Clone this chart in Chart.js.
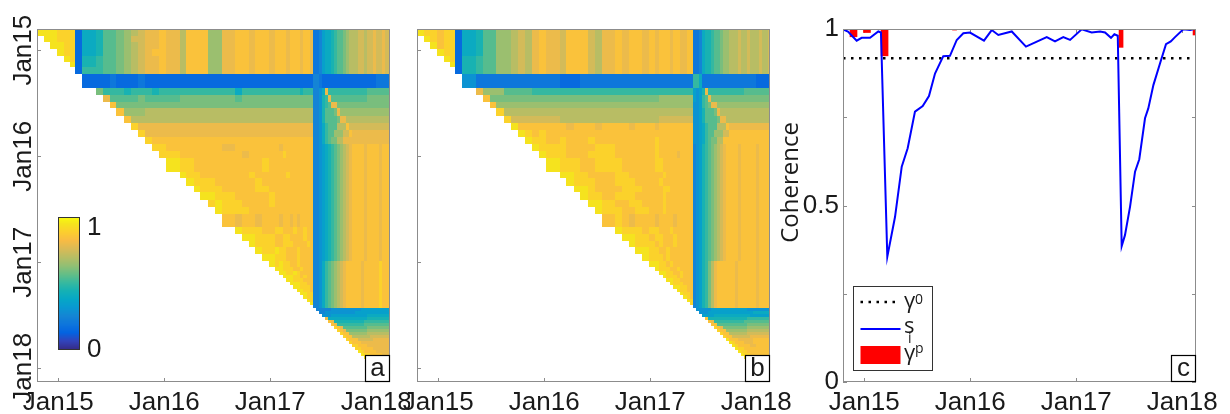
<!DOCTYPE html>
<html>
<head>
<meta charset="utf-8">
<script src="https://cdn.jsdelivr.net/npm/chart.js@4.4.1/dist/chart.umd.min.js"></script>
<style>
html,body{margin:0;padding:0;background:#fff;}
#wrap{position:relative;width:1230px;height:414px;overflow:hidden;}
canvas{position:absolute;top:0;}
</style>
</head>
<body>
<div id="wrap">
<canvas id="pa" width="410" height="414" style="left:0"></canvas>
<canvas id="pb" width="410" height="414" style="left:400px"></canvas>
<canvas id="pc" width="460" height="414" style="left:770px"></canvas>
</div>
<script>
const X_MIN = 2014.80, X_MAX = 2018.13;
const tickYears = [2015, 2016, 2017, 2018];
const tickLabels = ['Jan15', 'Jan16', 'Jan17', 'Jan18'];

// acquisition date edges (decimal years)
const dates = [
  2014.800, 2014.863, 2014.925, 2014.989, 2015.052, 2015.114, 2015.161, 2015.225, 2015.359, 2015.423,
  2015.486, 2015.548, 2015.618, 2015.690, 2015.753, 2015.816, 2015.885, 2015.954, 2016.017, 2016.146,
  2016.208, 2016.278, 2016.341, 2016.410, 2016.476, 2016.542, 2016.668, 2016.734, 2016.797, 2016.857,
  2016.923, 2016.986, 2017.048, 2017.083, 2017.116, 2017.149, 2017.182, 2017.215, 2017.248, 2017.281,
  2017.314, 2017.347, 2017.380, 2017.408, 2017.435, 2017.462, 2017.489, 2017.517, 2017.545, 2017.574,
  2017.602, 2017.630, 2017.658, 2017.687, 2017.715, 2017.743, 2017.772, 2017.800, 2017.828, 2017.857,
  2017.885, 2017.913, 2017.942, 2017.970, 2017.998, 2018.026, 2018.055, 2018.083, 2018.111, 2018.135
];

// coherence rows, run-length coded: letter = level (A=0.00 ... U=1.00, step 0.05), digits = repeat
const cohA = [
  "T3 S3 D I J L2 M N O P Q Q R Q O R3 N2 Q R2 Q R2 Q R R2 Q R3 Q R2 Q E2 F H I2 J K L2 M N O3 P2 O P2 Q P2 Q P2",
  "T2 S3 D I J L2 M N P P Q Q R Q O R3 N2 Q R2 Q R2 Q R R2 Q R3 Q R2 Q E2 F H I2 J K L2 M N O3 P2 O P2 Q P2 Q P2",
  "T2 S2 D I J L2 M N O P Q Q R Q O R3 N2 Q R2 Q R2 Q R R2 Q R3 Q R2 Q E2 F H I2 J K L2 M N O3 P2 O P2 Q P2 Q P2",
  "T S2 D I J L2 M N O P Q R R Q O R3 N2 Q R2 Q R2 Q R R2 Q R3 Q R2 Q E2 F H I2 J K L2 M N O3 P2 O P2 Q P2 Q P2",
  "T S D J K L2 M N O P Q Q R Q O R3 N2 Q R2 Q R2 Q R R2 Q R3 Q R2 Q E2 F H I2 J K L2 M N O3 P2 O P2 Q P2 Q P2",
  "T D J K L2 M N O P Q Q R Q O R3 N2 Q R2 Q R2 Q R R2 Q R3 Q R2 Q E2 F H I2 J K L2 M N O3 P2 O P2 Q P2 Q P2",
  "D K K L2 M N O P Q Q R Q O R3 N2 Q R2 Q R2 Q R R2 Q R3 Q R2 Q E2 F H I2 J K L2 M N O3 P2 O P2 Q P2 Q P2",
  "D3 E D3 E D8 D2 D8 D10 F2 E D18 E5",
  "M K3 J K3 J K2 K7 I K6 K6 J K3 F2 G I Q K13 L8",
  "Q L4 M L4 M7 L M6 M10 F2 G J K Q L12 M8",
  "R M8 M14 M10 F2 G J K L Q2 M18",
  "R N3 O4 O14 O10 F2 G J L3 M Q N17",
  "R O6 O14 O10 F2 G J L4 M Q2 O15",
  "S Q5 Q14 Q10 F2 G I K L3 O3 R P14",
  "S Q4 Q14 Q10 F2 G I K L2 N3 P2 R Q13",
  "S R3 R14 R10 F2 G I K L M2 O2 Q16",
  "S2 R7 Q R7 Q R9 F2 G H I J K L M N O P Q R4 Q R4 Q R4",
  "S2 R8 Q R6 S R8 F2 G H I J K L M N O P Q R4 Q R4 Q R4",
  "T S2 R9 S R12 F2 G H I J K L M N O P Q R4 Q R4 Q R4",
  "T S2 R6 S R6 S R7 F2 G H I J K L M N O P Q R4 Q R4 Q R4",
  "T S3 R5 S R13 F2 G H I J K L M N O P Q R4 Q R4 Q R4",
  "T S3 R4 S2 R12 F2 G H I J K L M N O P Q R4 Q R4 Q R4",
  "T2 S2 R5 S R11 F2 G H I J K L M N O P Q R4 Q R4 Q R4",
  "S T S2 R4 S R11 F2 G H I J K L M N O P Q R4 Q R4 Q R4",
  "T S3 R15 F2 G H I J K L M N O P Q R4 Q R4 Q R4",
  "R Q R2 Q R3 Q R2 Q R Q R4 F2 G H I J K L M N O P Q R4 Q R4 Q R4",
  "T S3 R2 S2 R3 S R2 S R2 F2 G H I J K L M N O P Q R4 Q R4 Q R4",
  "T2 S3 R2 S2 R4 S R2 F2 G H I J K L M N O P Q R4 Q R4 Q R4",
  "T S3 R2 S3 R4 S R F2 G H I J K L M N O P Q R4 Q R4 Q R4",
  "T S2 T S2 R3 S R4 F2 G H I J K L M N O P Q R4 Q R4 Q R4",
  "T2 S3 R3 S R4 F2 G H I J K L M N O P Q R4 Q R4 Q R4",
  "T S T S2 R2 S R4 F2 G I K L M N O P Q R5 Q R5 S R4",
  "T2 S3 R2 S R3 F2 G I K L M N O P Q R5 Q R5 S R4",
  "T2 S2 T S R4 F2 G I K L M N O P Q R5 Q R5 S R4",
  "T3 S2 R S R2 F2 G I K L M N O P Q R5 Q R5 S R4",
  "T2 S3 R3 F2 G I K L M N O P Q R5 Q R5 S R4",
  "T3 S2 R2 F2 G I K L M N O P Q R5 Q R5 S R4",
  "T2 S3 R F2 G I K L M N O P Q R5 Q R5 S R4",
  "T2 S2 R F2 G I K L M N O P Q R5 Q R5 S R4",
  "T2 S2 F2 G I K L M N O P Q R5 Q R5 S R4",
  "T S2 F2 G I K L M N O P Q R5 Q R5 S R4",
  "T S F2 G I K L M N O P Q R5 Q R5 S R4",
  "T F2 G I K L M N O P Q R5 Q R5 S R4",
  "F2 G I K L M N O P Q R5 Q R5 S R4",
  "F5 G10 H10",
  "F2 G10 H12",
  "G3 H12 I8",
  "Q I13 J8",
  "R Q J10 K9",
  "R Q K9 L9",
  "S R Q L8 M8",
  "S R Q M7 N8",
  "S R2 N6 O8",
  "S R2 O6 P7",
  "S R3 P5 Q6",
  "S R3 Q10",
  "S2 R3 Q8",
  "S2 R4 Q6",
  "T S R4 Q5",
  "T S2 R4 Q3",
  "T S2 R6",
  "T S2 R5",
  "T S2 R4",
  "T S2 R3",
  "T S2 R2",
  "T S2 R",
  "T S2",
  "T S",
  "T"
];

const cohB = [
  "T S2 R S2 D I J L2 N2 O P O Q R Q P R3 P O Q R Q R2 Q R Q R3 Q R2 Q2 R2 E2 F I J2 K L2 M N2 O3 P O2 P O3 P O2 P",
  "T S R S2 D I J L2 N2 O P O Q R Q P R3 P O Q R Q R2 Q R Q R3 Q R2 Q2 R2 E2 F I J2 K L2 M N2 O3 P O2 P O3 P O2 P",
  "T R S2 D I J L2 N2 O P O Q R Q P R3 P O Q R Q R2 Q R Q R3 Q R2 Q2 R2 E2 F I J2 K L2 M N2 O3 P O2 P O3 P O2 P",
  "T S2 D I J L2 N2 O P O Q R Q P R3 P O Q R Q R2 Q R Q R3 Q R2 Q2 R2 E2 F I J2 K L2 M N2 O3 P O2 P O3 P O2 P",
  "T S D J K L2 N2 O P O Q R Q P R3 P O Q R Q R2 Q R Q R3 Q R2 Q2 R2 E2 F I J2 K L2 M N2 O3 P O2 P O3 P O2 P",
  "T D J K L2 N2 O P O Q R Q P R3 P O Q R Q R2 Q R Q R3 Q R2 Q2 R2 E2 F I J2 K L2 M N2 O3 P O2 P O3 P O2 P",
  "D J K L2 N2 O P O Q R Q P R3 P O Q R Q R2 Q R Q R3 Q R2 Q2 R2 E2 F I J2 K L2 M N2 O3 P O2 P O3 P O2 P",
  "G E11 D3 E21 K2 I E18 D5",
  "Q N3 L4 K3 K14 K10 H G H J Q K12 L9",
  "R M9 M14 N10 H G H K L Q M20",
  "R N8 N14 N10 G2 H K L M Q2 N18",
  "S O7 O14 O10 G2 H J L3 M Q O17",
  "S P6 O14 P10 G2 H J L4 M Q2 O15",
  "T R5 R Q R3 Q R3 Q R3 Q R10 G2 H I K L3 O3 R Q14",
  "T S R S R R14 R10 G2 H I K L2 N3 P2 R R13",
  "T S2 R S R3 S R8 S R10 G2 H I K L M2 O2 R16",
  "T S3 R4 S2 R6 S R10 F G H J K L M N O P Q R4 Q R5 Q R4",
  "T S2 R3 S3 R6 S R5 Q R4 F G H J K L M N O P Q R4 Q R5 Q R4",
  "T S3 R2 S3 R5 S2 R9 F G H J K L M N O P Q R4 Q R5 Q R4",
  "T2 S2 R3 S2 R6 S R8 F G H J K L M N O P Q R4 Q R5 Q R4",
  "T S3 R2 S3 R4 S R9 F G H J K L M N O P Q R4 Q R5 Q R4",
  "T2 S R3 S3 R4 S2 R7 F G H J K L M N O P Q R4 Q R5 Q R4",
  "T S2 R S3 R5 S R8 F G H J K L M N O P Q R4 Q R5 Q R4",
  "T2 S R2 S2 R4 S R8 F G H J K L M N O P Q R4 Q R5 Q R4",
  "T S2 R2 S2 R3 S R8 F G H J K L M N O P Q R4 Q R5 Q R4",
  "R S R Q R3 Q R4 Q R5 F G H J K L M N O P Q R4 Q R5 Q R4",
  "T S3 R S2 R3 S R6 F G H J K L M N O P Q R4 Q R5 Q R4",
  "T2 S2 R S2 R3 S R5 F G H J K L M N O P Q R4 Q R5 Q R4",
  "T S3 R S R3 S R5 F G H J K L M N O P Q R4 Q R5 Q R4",
  "T2 S2 R2 S R7 F G H J K L M N O P Q R4 Q R5 Q R4",
  "T S3 R S R7 F G H J K L M N O P Q R4 Q R5 Q R4",
  "T2 S2 R S R6 F G H J K M O Q R6 Q R6 Q R4",
  "T S3 R2 S R4 F G H J K M O Q R6 Q R6 Q R4",
  "T2 S2 R2 S R3 F G H J K M O Q R6 Q R6 Q R4",
  "T S3 R S R3 F G H J K M O Q R6 Q R6 Q R4",
  "T2 S2 R4 F G H J K M O Q R6 Q R6 Q R4",
  "T S3 R3 F G H J K M O Q R6 Q R6 Q R4",
  "T2 S2 R2 F G H J K M O Q R6 Q R6 Q R4",
  "T S2 R2 F G H J K M O Q R6 Q R6 Q R4",
  "T S2 R F G H J K M O Q R6 Q R6 Q R4",
  "T S R F G H J K M O Q R6 Q R6 Q R4",
  "T S F G H J K M O Q R6 Q R6 Q R4",
  "S F G H J K M O Q R6 Q R6 Q R4",
  "F G H J K M O Q R6 Q R6 Q R4",
  "G5 H12 G8",
  "G3 H15 I6",
  "H4 I12 H7",
  "R J13 K8",
  "R Q K10 L9",
  "R2 L10 M8",
  "S R Q M8 N8",
  "S R2 N7 O8",
  "S R2 O6 P8",
  "S R2 P6 Q7",
  "T R3 Q5 R6",
  "T S R3 Q3 R6",
  "T S R4 Q2 R5",
  "T S2 R9",
  "T S2 R8",
  "T S2 R7",
  "T S2 R6",
  "T S2 R5",
  "T S2 R4",
  "T S2 R3",
  "T S2 R2",
  "T S2 R",
  "T S2",
  "T S",
  "T"
];

// panel c: s_i line
const siDates = [
  2014.800, 2014.847, 2014.929, 2014.976, 2015.055, 2015.133, 2015.158, 2015.218, 2015.291, 2015.354,
  2015.410, 2015.479, 2015.552, 2015.611, 2015.668, 2015.746, 2015.809, 2015.873, 2015.935, 2015.998,
  2016.130, 2016.203, 2016.265, 2016.392, 2016.526, 2016.722, 2016.800, 2016.878, 2016.942, 2017.052,
  2017.146, 2017.225, 2017.272, 2017.328, 2017.360, 2017.392, 2017.429, 2017.460, 2017.508, 2017.555,
  2017.595, 2017.649, 2017.680, 2017.728, 2017.791, 2017.847, 2017.892, 2017.932, 2018.010, 2018.074,
  2018.106
];
const siValues = [
  0.999, 0.993, 0.967, 0.975, 0.975, 0.993, 0.990, 0.355, 0.468, 0.610,
  0.662, 0.766, 0.782, 0.810, 0.874, 0.923, 0.924, 0.969, 0.988, 0.990,
  0.967, 0.997, 0.983, 0.993, 0.950, 0.977, 0.965, 0.977, 0.969, 0.999,
  0.990, 0.993, 0.990, 0.975, 0.985, 0.981, 0.385, 0.416, 0.497, 0.596,
  0.631, 0.747, 0.775, 0.841, 0.903, 0.957, 0.965, 0.977, 0.999, 0.997,
  0.999
];
const gamma0 = 0.917;
const gpDates = [2014.899, 2015.026, 2015.192, 2015.852, 2016.995, 2017.423, 2018.121];
const gpValues = [0.978, 0.990, 0.924, 0.997, 0.998, 0.948, 0.983];
const cTicks = [0, 0.25, 0.5, 0.75, 1];
const cTickLabels = ['0', '', '0.5', '', '1'];

const FONT = '"Liberation Sans", Arial, sans-serif';
const FONT2 = '"Open Sans", sans-serif';
const TXT = '#1a1a1a';
const AXC = '#8c8c8c';

const PARULA = [
  [0, 53, 42, 135], [4, 50, 67, 186], [8, 3, 99, 225], [12, 13, 117, 220], [16, 20, 133, 212],
  [20, 9, 152, 209], [24, 6, 167, 198], [28, 21, 177, 180], [32, 56, 185, 158], [36, 101, 190, 134],
  [40, 146, 191, 115], [44, 183, 189, 100], [48, 217, 186, 86], [52, 248, 187, 68], [56, 252, 206, 46],
  [60, 245, 228, 29], [63, 249, 251, 14]
];
function parula(v){
  const t = Math.min(Math.max(v, 0), 1) * 63;
  let k = 0;
  while(k < PARULA.length - 2 && PARULA[k+1][0] < t) k++;
  const a = PARULA[k], b = PARULA[k+1];
  const f = (t - a[0]) / (b[0] - a[0]);
  const c = [1,2,3].map(i => Math.round(a[i] + (b[i]-a[i])*f));
  return 'rgb(' + c.join(',') + ')';
}

function decodeRow(s){
  const out = [];
  s.replace(/([A-U])(\d*)/g, (m, ch, n) => {
    const k = n ? parseInt(n,10) : 1;
    for(let i=0;i<k;i++) out.push((ch.charCodeAt(0)-65)*0.05);
    return m;
  });
  return out;
}

function buildCells(rows){
  const n = dates.length - 1;
  const cells = [];
  rows.forEach((row, i) => {
    const vals = decodeRow(row);
    while(vals.length < n - i) vals.push(vals[vals.length-1]);
    for(let k=0;k<n-i;k++){
      const j = i + k;
      cells.push({x:(dates[j]+dates[j+1])/2, y:(dates[i]+dates[i+1])/2,
        x0:dates[j], x1:dates[j+1], y0:dates[i], y1:dates[i+1], v:vals[k]});
    }
  });
  return cells;
}

function drawInnerTicks(chart){
  const {ctx, chartArea:a, scales:{x, y}} = chart;
  const len = 4;
  ctx.save();
  ctx.strokeStyle = AXC; ctx.lineWidth = 1;
  ctx.beginPath();
  x.ticks.forEach(t => {
    const p = Math.round(x.getPixelForValue(t.value)) + 0.5;
    ctx.moveTo(p, a.bottom); ctx.lineTo(p, a.bottom - len);
    ctx.moveTo(p, a.top); ctx.lineTo(p, a.top + len);
  });
  y.ticks.forEach(t => {
    const p = Math.round(y.getPixelForValue(t.value)) + 0.5;
    ctx.moveTo(a.left, p); ctx.lineTo(a.left + len, p);
    ctx.moveTo(a.right, p); ctx.lineTo(a.right - len, p);
  });
  ctx.stroke();
  ctx.restore();
}

function drawCells(chart){
  const {ctx, chartArea:a, scales:{x, y}} = chart;
  ctx.save();
  ctx.beginPath(); ctx.rect(a.left, a.top, a.width, a.height); ctx.clip();
  chart.data.datasets[0].data.forEach(c => {
    const px0 = Math.round(x.getPixelForValue(c.x0)), px1 = Math.round(x.getPixelForValue(c.x1));
    const py0 = Math.round(y.getPixelForValue(c.y0)), py1 = Math.round(y.getPixelForValue(c.y1));
    ctx.fillStyle = parula(c.v);
    ctx.fillRect(px0, py0, px1 - px0, py1 - py0);
  });
  ctx.restore();
}

function drawBox(chart){
  const {ctx, chartArea:a} = chart;
  ctx.save();
  ctx.strokeStyle = AXC; ctx.lineWidth = 1;
  ctx.strokeRect(a.left + 0.5, a.top + 0.5, a.width - 1, a.height - 1);
  ctx.restore();
}

function drawTag(chart, letter){
  const {ctx, chartArea:a} = chart;
  const w = 25, h = 27;
  ctx.save();
  ctx.fillStyle = '#fff';
  ctx.fillRect(a.right - w, a.bottom - h, w, h);
  ctx.strokeStyle = '#000'; ctx.lineWidth = 1.2;
  ctx.strokeRect(a.right - w + 0.5, a.bottom - h + 0.5, w - 1, h - 1);
  ctx.fillStyle = TXT; ctx.font = '26px ' + FONT;
  ctx.textAlign = 'center'; ctx.textBaseline = 'alphabetic';
  ctx.fillText(letter, a.right - w/2, a.bottom - 6);
  ctx.restore();
}

function drawColorbar(chart){
  const {ctx, chartArea:a} = chart;
  const x0 = a.left + 21, w = 22, y0 = 217, h = 133;
  ctx.save();
  for(let k=0;k<h;k++){
    ctx.fillStyle = parula(1 - k/(h-1));
    ctx.fillRect(x0, y0 + k, w, 1);
  }
  ctx.strokeStyle = '#333'; ctx.lineWidth = 1;
  ctx.strokeRect(x0 + 0.5, y0 + 0.5, w - 1, h - 1);
  ctx.fillStyle = TXT; ctx.font = '26px ' + FONT;
  ctx.textAlign = 'left'; ctx.textBaseline = 'alphabetic';
  ctx.fillText('1', x0 + w + 7, y0 + 18);
  ctx.fillText('0', x0 + w + 7, y0 + h + 7);
  ctx.restore();
}

function xScale(){
  return {
    type:'linear', min:X_MIN, max:X_MAX, offset:false,
    afterBuildTicks: s => { s.ticks = tickYears.map(v => ({value:v})); },
    afterFit: s => { s.height = 32; s.paddingLeft = 0; s.paddingRight = 0; },
    grid:{display:false, drawTicks:false, offset:false}, border:{display:false},
    ticks:{autoSkip:false, maxRotation:0, padding:5, color:TXT, font:{family:FONT, size:26},
      callback:(v, i) => tickLabels[i]}
  };
}

function heatChart(id, rows, opt){
  return new Chart(document.getElementById(id), {
    type:'scatter',
    data:{datasets:[{data:buildCells(rows), pointRadius:0, showLine:false}]},
    options:{
      responsive:false, animation:false, devicePixelRatio:1, events:[],
      layout:{padding:{top:29, right:opt.right, bottom:0, left:0}},
      plugins:{legend:{display:false}, tooltip:{enabled:false}},
      scales:{
        x: xScale(),
        y: {
          type:'linear', reverse:true, min:X_MIN, max:X_MAX,
          afterBuildTicks: s => { s.ticks = tickYears.map(v => ({value:v})); },
          afterFit: s => { s.width = opt.yw; s.paddingTop = 0; s.paddingBottom = 0; },
          grid:{display:false, drawTicks:false}, border:{display:false},
          ticks:{display:opt.ylabels, autoSkip:false, minRotation:90, maxRotation:90, crossAlign:'center',
            padding:-22, color:TXT, font:{family:FONT, size:26}, callback:(v, i) => tickLabels[i]}
        }
      }
    },
    plugins:[{
      id:'heat',
      beforeDatasetsDraw(chart){ drawInnerTicks(chart); drawCells(chart); },
      afterDatasetsDraw(chart){
        drawBox(chart);
        if(opt.colorbar) drawColorbar(chart);
        drawTag(chart, opt.tag);
      }
    }]
  });
}

heatChart('pa', cohA, {right:20, yw:37, ylabels:true, colorbar:true, tag:'a'});
heatChart('pb', cohB, {right:40, yw:17, ylabels:false, colorbar:false, tag:'b'});

function drawLegendC(chart){
  const {ctx, chartArea:a} = chart;
  const L = a.left + 10.5, T = 286.5, W = 79, H = 84;
  ctx.save();
  ctx.fillStyle = '#fff'; ctx.fillRect(L, T, W, H);
  ctx.strokeStyle = '#333'; ctx.lineWidth = 1; ctx.strokeRect(L, T, W, H);
  const x1 = a.left + 17.5, x2 = a.left + 57.5, tx = a.left + 61;
  ctx.strokeStyle = '#000'; ctx.lineWidth = 2.5; ctx.setLineDash([2.5, 5.5]);
  ctx.beginPath(); ctx.moveTo(x1, 302); ctx.lineTo(x2, 302); ctx.stroke();
  ctx.setLineDash([]);
  ctx.strokeStyle = '#0000ff'; ctx.lineWidth = 2;
  ctx.beginPath(); ctx.moveTo(x1, 329); ctx.lineTo(x2, 329); ctx.stroke();
  ctx.fillStyle = '#ff0000'; ctx.fillRect(x1, 346, x2 - x1, 18);
  ctx.fillStyle = TXT; ctx.textAlign = 'left'; ctx.textBaseline = 'alphabetic';
  ctx.font = '22px ' + FONT2;
  ctx.fillText('\u03b3', tx, 308);
  ctx.fillText('s', tx, 333);
  ctx.fillText('\u03b3', tx, 360);
  ctx.font = '14px ' + FONT2;
  ctx.fillText('0', tx + 11, 304);
  ctx.fillText('i', tx + 4, 343);
  ctx.fillText('p', tx + 11, 353);
  ctx.restore();
}

function drawYTitleC(chart){
  const {ctx} = chart;
  ctx.save();
  ctx.translate(798 - 770, 182.5);
  ctx.rotate(-Math.PI/2);
  ctx.fillStyle = TXT; ctx.font = '24px ' + FONT2;
  ctx.textAlign = 'center'; ctx.textBaseline = 'alphabetic';
  ctx.fillText('Coherence', 0, 0);
  ctx.restore();
}

const gpPoints = gpDates.map((d, i) => ({x:d, y:[gpValues[i], 1]}));
const wide = gpPoints.filter(p => p.x < 2015.5);
const narrow = gpPoints.filter(p => p.x >= 2015.5);

new Chart(document.getElementById('pc'), {
  type:'line',
  data:{datasets:[
    {label:'s_i', data:siDates.map((d, i) => ({x:d, y:siValues[i]})), borderColor:'#0000ff', borderWidth:2,
      pointRadius:0, tension:0, fill:false, order:0},
    {label:'gamma0', data:[{x:X_MIN, y:gamma0}, {x:X_MAX, y:gamma0}], borderColor:'#000', borderWidth:2.5,
      borderDash:[2.5, 5.5], pointRadius:0, fill:false, order:1},
    {type:'bar', label:'gammaP', data:wide, backgroundColor:'#ff0000', barThickness:7, grouped:false, order:2},
    {type:'bar', label:'gammaP2', data:narrow, backgroundColor:'#ff0000', barThickness:4, grouped:false, order:3}
  ]},
  options:{
    responsive:false, animation:false, devicePixelRatio:1, events:[],
    layout:{padding:{top:29, right:34, bottom:0, left:0}},
    plugins:{legend:{display:false}, tooltip:{enabled:false}},
    scales:{
      x: xScale(),
      y: {
        type:'linear', min:0, max:1,
        afterBuildTicks: s => { s.ticks = cTicks.map(v => ({value:v})); },
        afterFit: s => { s.width = 73; s.paddingTop = 0; s.paddingBottom = 0; },
        grid:{display:false, drawTicks:false}, border:{display:false},
        ticks:{autoSkip:false, padding:4, color:TXT, font:{family:FONT, size:26}, callback:(v, i) => cTickLabels[i]}
      }
    }
  },
  plugins:[{
    id:'frame',
    beforeDatasetsDraw(chart){ drawInnerTicks(chart); },
    afterDatasetsDraw(chart){
      drawBox(chart);
      drawLegendC(chart);
      drawTag(chart, 'c');
      drawYTitleC(chart);
    }
  }]
});
</script>
</body>
</html>
